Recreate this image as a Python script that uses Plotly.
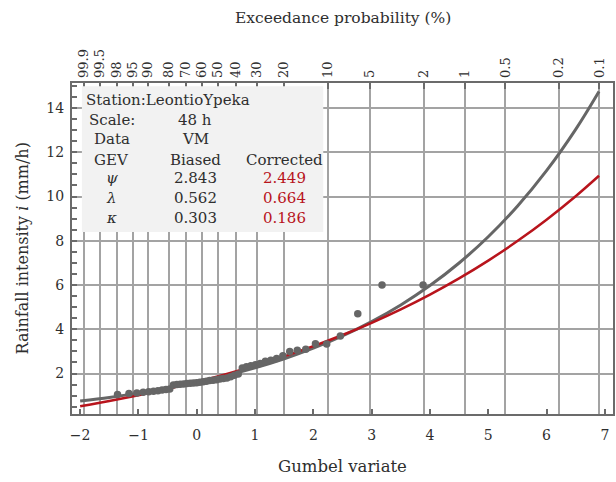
import plotly.graph_objects as go

# ---- data ----
curve_x = [-2.0, -1.5, -1.0, -0.5, 0.0, 0.5, 1.0, 1.5, 2.0, 2.5, 3.0, 3.5,
           4.0, 4.5, 5.0, 5.5, 6.0, 6.5, 6.9]
gev_biased = [0.755, 0.920, 1.113, 1.337, 1.598, 1.901, 2.254, 2.665, 3.143,
              3.699, 4.346, 5.099, 5.975, 6.995, 8.181, 9.561, 11.168, 13.036, 14.75]
gev_corrected = [0.517, 0.757, 1.020, 1.309, 1.626, 1.974, 2.356, 2.775, 3.235,
                 3.740, 4.293, 4.902, 5.569, 6.301, 7.104, 7.986, 8.953, 10.015, 10.94]

obs_x = [-1.359, -1.163, -1.027, -0.919, -0.825, -0.742, -0.666, -0.595, -0.528,
         -0.463, -0.401, -0.341, -0.283, -0.225, -0.169, -0.113, -0.057, -0.001,
         0.054, 0.110, 0.166, 0.222, 0.279, 0.337, 0.396, 0.456, 0.518, 0.581,
         0.645, 0.712, 0.781, 0.853, 0.928, 1.007, 1.089, 1.177, 1.270, 1.370,
         1.477, 1.595, 1.725, 1.870, 2.036, 2.229, 2.463, 2.762, 3.178, 3.882]
obs_i = [1.05, 1.10, 1.12, 1.15, 1.18, 1.20, 1.22, 1.25, 1.28,
         1.30, 1.48, 1.50, 1.52, 1.53, 1.55, 1.56, 1.57, 1.58,
         1.60, 1.63, 1.65, 1.68, 1.70, 1.72, 1.75, 1.78, 1.80, 1.85,
         1.92, 1.98, 2.25, 2.30, 2.35, 2.40, 2.45, 2.55, 2.60, 2.68,
         2.80, 3.00, 3.05, 3.10, 3.35, 3.33, 3.70, 4.70, 6.00, 6.00]

prob_pos = [-1.9327, -1.6674, -1.3640, -1.0972, -0.8340, -0.4759, -0.1856, 0.0874,
            0.3665, 0.6717, 1.0309, 1.4999, 2.2504, 2.9702, 3.9019, 4.6001,
            5.2958, 6.2136, 6.9073]
prob_lbl = ["99.9", "99.5", "98", "95", "90", "80", "70", "60", "50", "40", "30",
            "20", "10", "5", "2", "1", "0.5", "0.2", "0.1"]

x_ticks = [-2, -1, 0, 1, 2, 3, 4, 5, 6, 7]
y_ticks = [2, 4, 6, 8, 10, 12, 14]

station = "Station:LeontioYpeka"
table_rows = [("Scale:", "48 h", ""), ("Data", "VM", ""), ("GEV", "Biased", "Corrected"),
              ("\u03c8", "2.843", "2.449"), ("\u03bb", "0.562", "0.664"), ("\u03ba", "0.303", "0.186")]

# ---- style ----
SERIF = "DejaVu Serif"
GRAY = "#666666"
RED = "#b8141c"
TXT = "#2e2e2e"
GRID = "#a3a3a3"
FRAME = "#6b6b6b"

XR = [-2.14, 7.14]
YR = [0.17, 15.13]

fig = go.Figure()
fig.add_trace(go.Scatter(x=curve_x, y=gev_biased, mode="lines", line=dict(color=GRAY, width=3, shape="spline"),
                         showlegend=False, hoverinfo="skip"))
fig.add_trace(go.Scatter(x=curve_x, y=gev_corrected, mode="lines", line=dict(color=RED, width=2.5, shape="spline"),
                         showlegend=False, hoverinfo="skip"))
fig.add_trace(go.Scatter(x=obs_x, y=obs_i, mode="markers", marker=dict(color=GRAY, size=7.5, line=dict(width=0)),
                         showlegend=False))
fig.add_trace(go.Scatter(x=obs_x, y=obs_i, xaxis="x2", mode="markers", marker=dict(opacity=0),
                         showlegend=False, hoverinfo="skip"))

# legend/table box
fig.add_shape(type="rect", xref="x", yref="y", x0=-1.97, x1=2.17, y0=8.4, y1=14.98,
              fillcolor="#f2f2f2", line=dict(width=0), layer="above")

row_y = [13.47, 12.59, 11.67, 10.85, 9.95, 9.04]
col_x = [-1.46, -0.03, 1.51]
fig.add_annotation(x=-1.93, y=14.38, xref="x", yref="y", text=station, showarrow=False,
                   xanchor="left", font=dict(family=SERIF, size=15, color=TXT))
for r, (a, b, c) in enumerate(table_rows):
    for k, t in enumerate((a, b, c)):
        if not t:
            continue
        color = RED if (k == 2 and r >= 3) else TXT
        txt = f"<i>{t}</i>" if (k == 0 and r >= 3) else t
        fig.add_annotation(x=col_x[k], y=row_y[r], xref="x", yref="y", text=txt, showarrow=False,
                           xanchor="center", font=dict(family=SERIF, size=15, color=color))

fig.update_layout(
    width=616, height=482,
    margin=dict(l=72, r=3, t=83, b=67.5, autoexpand=False),
    paper_bgcolor="white", plot_bgcolor="white",
    font=dict(family=SERIF, color=TXT, size=14),
    xaxis=dict(range=XR, tickvals=x_ticks, ticks="inside", ticklen=5, tickcolor=FRAME, tickwidth=1.5,
               showgrid=False, zeroline=False, showline=True, linecolor=FRAME, linewidth=2, mirror=True,
               automargin=False, ticklabelstandoff=7, tickfont=dict(family=SERIF, size=14, color=TXT)),
    xaxis2=dict(range=XR, overlaying="x", side="top", anchor="y", tickvals=prob_pos, ticktext=prob_lbl,
                tickangle=-90, ticks="inside", ticklen=6, tickcolor=FRAME, tickwidth=1.5,
                showgrid=True, gridcolor=GRID, gridwidth=1.6, zeroline=False, showline=False,
                automargin=False, ticklabelstandoff=4,
                tickfont=dict(family=SERIF, size=13, color=TXT)),
    yaxis=dict(range=YR, tickvals=y_ticks, ticks="inside", ticklen=5, tickcolor=FRAME, tickwidth=1.5,
               showgrid=True, gridcolor=GRID, gridwidth=1.6, zeroline=False, showline=True,
               linecolor=FRAME, linewidth=2, mirror=True, automargin=False, ticklabelstandoff=3,
               minor=dict(dtick=0.5, tick0=0, ticks="inside", ticklen=5, tickcolor=FRAME, tickwidth=1.5, showgrid=False),
               tickfont=dict(family=SERIF, size=14, color=TXT)),
)

fig.add_annotation(x=0.5, y=1, xref="paper", yref="paper", yshift=65, yanchor="middle",
                   text="Exceedance probability (%)", showarrow=False,
                   font=dict(family=SERIF, size=15.5, color=TXT))
fig.add_annotation(x=0.5, y=0, xref="paper", yref="paper", yshift=-52, yanchor="middle",
                   text="Gumbel variate", showarrow=False,
                   font=dict(family=SERIF, size=16.5, color=TXT))
fig.add_annotation(x=0, y=0.5, xref="paper", yref="paper", xshift=-50, xanchor="center",
                   text="Rainfall intensity <i>i</i> (mm/h)", textangle=-90, showarrow=False,
                   font=dict(family=SERIF, size=16, color=TXT))

fig.write_html("out.html", config={"displayModeBar": False},
               post_script="document.body.style.margin='0';document.body.style.overflow='hidden';")
